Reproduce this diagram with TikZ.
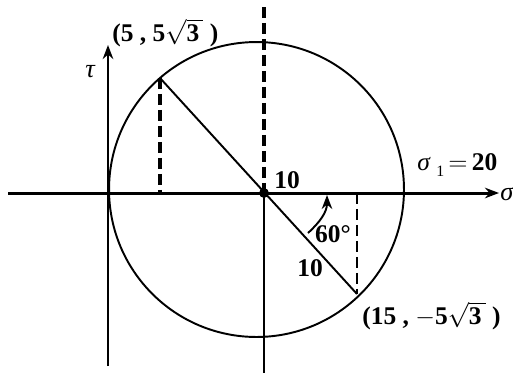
\documentclass[tikz,border=0pt]{standalone}
\usepackage{fontspec}
\setmainfont{Liberation Serif}
\usetikzlibrary{arrows.meta}
\begin{document}
\begin{tikzpicture}[x=0.02cm,y=-0.02cm,
  axis/.style={line width=1.7pt},
  dashln/.style={line width=1.8pt,dash pattern=on 6.3pt off 2.8pt},
  lbl/.style={font=\fontsize{14.5}{16}\selectfont\bfseries,inner sep=0pt},
  glbl/.style={font=\fontsize{15}{17}\selectfont\itshape,inner sep=0pt},
  tip/.style={-{Stealth[length=8pt,width=6pt]}}]
\useasboundingbox (0,0) rectangle (513,376);
% coordinates
\coordinate (O) at (264,193);
\coordinate (xl) at (8,193);
\coordinate (xr) at (499,193);
\coordinate (tb) at (108,366);
\coordinate (tt) at (108,45);
\coordinate (vt) at (264,7);
\coordinate (vb) at (264,373);
\coordinate (P) at (160,78);
\coordinate (Q) at (357,294);
\coordinate (Pb) at (160,193);
\coordinate (Qb) at (357,193);
\coordinate (Cc) at (256.5,189.5);
\coordinate (a1) at (308,233);
\coordinate (a2) at (327,195);
% circle
\draw[line width=1.1pt] (Cc) circle[radius=2.95cm];
% axes
\draw[axis,tip] (xl) -- (xr);
\draw[axis,tip] (tb) -- (tt);
\draw[dashln] (vt) -- (O);
\draw[axis] (O) -- (vb);
% diameter and projections
\draw[line width=1.1pt] (P) -- (Q);
\draw[dashln] (P) -- (Pb);
\draw[dashln,line width=1.2pt] (Qb) -- (Q);
\fill (O) circle[radius=2.8pt];
% angle arrow
\draw[line width=1.1pt,tip] (a1) .. controls (320,222) and (327,212) .. (a2);
% labels
\node[lbl,anchor=west] (lp) at (112,33) {(5 , 5$\sqrt{\textbf{3}\,}$ )};
\node[lbl,anchor=west] (lq) at (362,316) {(15 , $-$5$\sqrt{\textbf{3}\,}$ )};
\node[lbl,anchor=west] (ls) at (417,165) {{\mdseries\itshape σ} {\fontsize{9}{10}\selectfont\mdseries\raisebox{-3pt}{1}}$\,=\,$20};
\node[glbl,anchor=west] (lsig) at (500,194) {σ};
\node[glbl] (ltau) at (90,72) {τ};
\node[lbl] (l10a) at (287,180) {10};
\node[lbl] (l60) at (333,234) {60°};
\node[lbl] (l10b) at (310,268) {10};
\end{tikzpicture}
\end{document}
